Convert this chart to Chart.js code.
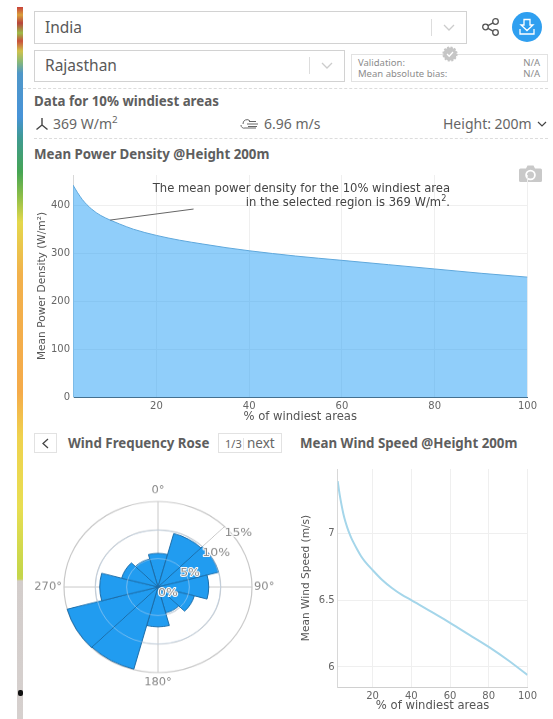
<!DOCTYPE html>
<html>
<head>
<meta charset="utf-8">
<script src="https://cdn.jsdelivr.net/npm/chart.js@4"></script>
<style>
  html, body { margin: 0; padding: 0; background: #fff; }
  body { width: 553px; height: 719px; position: relative; overflow: hidden; font-family: 'Noto Sans', sans-serif; color: #5c5c5c; }
  .abs { position: absolute; white-space: nowrap; }
  .box { position: absolute; box-sizing: border-box; border: 1px solid #d2d2d2; background: #fff; }
  .sel { font-size: 15.5px; line-height: 20px; color: #595959; }
  .head { font-size: 13.3px; font-weight: 700; line-height: 18px; color: #5e5e5e; }
  .stat { font-size: 14px; line-height: 18px; color: #666; }
  .val { font-size: 9.5px; line-height: 12px; color: #8c8c8c; }
  .dash { position: absolute; height: 0; border-top: 1px dashed #dcdcdc; }
  .note { font: 11.6px 'DejaVu Sans', sans-serif; color: #444; line-height: 14px; text-align: right; }
  canvas { position: absolute; display: block; }
  sup { font-size: 70%; line-height: 0; }
  #strip { position: absolute; left: 17px; top: 7px; width: 6px; height: 712px;
    background: linear-gradient(to bottom, #c8403a 0, #d9a03c 8px, #b8443c 16px, #9cbc48 26px, #c9503c 34px, #cfc24c 44px, #88b878 55px, #4f97c8 66px, #4793d8 110px, #3f9a92 131px, #46a554 165px, #8fbf48 190px, #e4d84c 215px, #f2b14c 268px, #f5ab4a 385px, #efd24e 430px, #e8de52 500px, #c4d64a 568px, #c8d450 572px, #d3cdcb 574px, #d6d0ce 712px); }
  #dot { position: absolute; left: 18px; top: 690px; width: 5px; height: 6px; background: #111; border-radius: 2px; }
</style>
</head>
<body>
<div id="strip"></div><div id="dot"></div>

<div class="box" style="left:34px;top:11px;width:433px;height:33px"></div>
<div class="abs sel" style="left:45px;top:17px">India</div>
<div class="abs" style="left:431px;top:19px;width:1px;height:17px;background:#ddd"></div>
<svg class="abs" style="left:443px;top:24px" width="12" height="8"><path d="M1 1 L6 6 L11 1" fill="none" stroke="#ccc" stroke-width="1.3"/></svg>

<svg class="abs" style="left:481px;top:17px" width="20" height="20" fill="none" stroke="#555" stroke-width="1.3">
  <circle cx="4.5" cy="10" r="2.8"/><circle cx="14.5" cy="4.5" r="2.8"/><circle cx="14.5" cy="15.5" r="2.8"/>
  <path d="M7 8.6 L12 5.9 M7 11.4 L12 14.1"/>
</svg>
<svg class="abs" style="left:512px;top:12px" width="30" height="30">
  <circle cx="15" cy="15" r="15" fill="#2f9ff0"/>
  <path d="M12 7.5 H18 V13 H21 L15 18.5 L9 13 H12 Z M8 17 V22 H22 V17" fill="none" stroke="#fff" stroke-width="1.3"/>
</svg>

<div class="box" style="left:34px;top:50px;width:311px;height:32px"></div>
<div class="abs sel" style="left:45px;top:55px">Rajasthan</div>
<div class="abs" style="left:309px;top:57px;width:1px;height:17px;background:#ddd"></div>
<svg class="abs" style="left:321px;top:62px" width="12" height="8"><path d="M1 1 L6 6 L11 1" fill="none" stroke="#ccc" stroke-width="1.3"/></svg>

<div class="box" style="left:351px;top:54px;width:197px;height:28px;border-color:#e2e2e2"></div>
<svg class="abs" style="left:442px;top:46px" width="16" height="16">
  <circle cx="8" cy="8" r="6.6" fill="#c6c6c6" stroke="#c6c6c6" stroke-dasharray="2 1.5" stroke-width="2"/>
  <path d="M5 8 L7.2 10.2 L11 6" fill="none" stroke="#fff" stroke-width="1.3"/>
</svg>
<div class="abs val" style="left:358px;top:57px">Validation:</div>
<div class="abs val" style="left:358px;top:68px">Mean absolute bias:</div>
<div class="abs val" style="right:13px;top:57px">N/A</div>
<div class="abs val" style="right:13px;top:68px">N/A</div>

<div class="dash" style="left:23px;width:525px;top:88px"></div>
<div class="abs head" style="left:34px;top:92px">Data for 10% windiest areas</div>

<svg class="abs" style="left:35px;top:117px" width="14" height="14" fill="none" stroke="#444" stroke-width="1.4">
  <path d="M7 1 V8 M7 8 L1.5 12.5 M7 8 L12.5 12.5"/>
</svg>
<div class="abs stat" style="left:53px;top:115px">369 W/m<sup>2</sup></div>
<svg class="abs" style="left:240px;top:118px" width="19" height="12" fill="none" stroke="#666" stroke-width="1">
  <path d="M3 6 A4 4 0 0 1 10 3 M1 7 A3 3 0 0 0 5 10 H16 M7 6 H18 M8 8.5 H17 M9 3.5 H16"/>
</svg>
<div class="abs stat" style="left:264px;top:115px">6.96 m/s</div>
<div class="abs stat" style="left:443px;top:115px">Height: 200m</div>
<svg class="abs" style="left:537px;top:121px" width="10" height="7"><path d="M1 1 L5 5 L9 1" fill="none" stroke="#444" stroke-width="1.2"/></svg>

<div class="dash" style="left:34px;width:514px;top:138px"></div>
<div class="abs head" style="left:34px;top:145px">Mean Power Density @Height 200m</div>

<svg class="abs" style="left:519px;top:165px" width="23" height="17">
  <path d="M1.5 3.5 H7 L8.5 0.5 H14.5 L16 3.5 H21.5 Q23 3.5 23 5 V15.5 Q23 17 21.5 17 H1.5 Q0 17 0 15.5 V5 Q0 3.5 1.5 3.5 Z" fill="#c9c9c9"/>
  <circle cx="11.5" cy="10" r="4.4" fill="none" stroke="#fff" stroke-width="1.8"/>
</svg>

<canvas id="powerChart" style="left:30px;top:165px"></canvas>
<div class="abs note" style="right:103px;top:181px">The mean power density for the 10% windiest area<br>in the selected region is 369 W/m<sup>2</sup>.</div>

<div class="box" style="left:34px;top:433px;width:23px;height:20px;border-color:#e2e2e2"></div>
<svg class="abs" style="left:41px;top:438px" width="9" height="11"><path d="M7 1 L2 5.5 L7 10" fill="none" stroke="#444" stroke-width="1.3"/></svg>
<div class="abs head" style="left:68px;top:434px">Wind Frequency Rose</div>
<div class="box" style="left:218px;top:433px;width:64px;height:20px;border-color:#e2e2e2"></div>
<div class="abs stat" style="left:225px;top:435px;font-size:11px">1/3</div>
<div class="abs" style="left:243px;top:438px;width:1px;height:12px;background:#e4e4e4"></div>
<div class="abs stat" style="left:247px;top:434px;font-size:13.5px">next</div>
<div class="abs head" style="left:300px;top:434px">Mean Wind Speed @Height 200m</div>

<canvas id="roseChart" style="left:18px;top:447px;transform:scaleY(0.91);transform-origin:center"></canvas>
<canvas id="speedChart" style="left:296px;top:460px"></canvas>

<script>
// ─── DATA ───
const powerPct    = [2, 3, 4, 5, 6, 7, 8, 9, 10, 12, 15, 20, 25, 30, 35, 40, 50, 60, 70, 80, 90, 100];
const powerValues = [442, 426, 412, 401, 392, 384.5, 378.5, 373.5, 369, 361, 350, 337, 327, 319, 311.5, 305, 294, 285, 276, 267, 258, 250];
const powerXTicks = [20, 40, 60, 80, 100];
const powerYTicks = [0, 100, 200, 300, 400];
const powerNote   = { x: [10, 28], y: [369, 392] };

const speedPct    = [2, 3, 4, 5, 6, 7, 8, 9, 10, 12, 14, 16, 20, 25, 30, 35, 40, 50, 60, 70, 80, 90, 100];
const speedValues = [7.39, 7.29, 7.21, 7.14, 7.085, 7.04, 7.0, 6.965, 6.935, 6.88, 6.83, 6.79, 6.725, 6.65, 6.59, 6.54, 6.5, 6.415, 6.33, 6.24, 6.15, 6.05, 5.94];
const speedXTicks = [20, 40, 60, 80, 100];
const speedYTicks = [6, 6.5, 7];

// 12 sectors of 30 deg, first one centred on north
const roseSectors = ['0°', '30°', '60°', '90°', '120°', '150°', '180°', '210°', '240°', '270°', '300°', '330°'];
const roseValues  = [5.9, 9.7, 10, 8.1, 6, 4.7, 7, 14.9, 15, 9.3, 6, 5.1];
const roseAngles  = [0, 90, 180, 270];
const roseRings   = [0, 5, 10, 15];

const TICK_FONT = { family: "'DejaVu Sans', sans-serif", size: 10 };
const XTITLE_FONT = { family: "'DejaVu Sans', sans-serif", size: 11.6 };
const YTITLE_FONT = { family: "'DejaVu Sans', sans-serif", size: 10.6 };
Chart.defaults.animation = false;
Chart.defaults.responsive = false;
Chart.defaults.plugins.legend.display = false;
Chart.defaults.plugins.tooltip.enabled = false;

function setSize(id, w, h) {
  const el = document.getElementById(id);
  el.width = w; el.height = h;
  el.style.width = w + 'px'; el.style.height = h + 'px';
  return el;
}

function toPoints(xs, ys) {
  return xs.map((x, i) => ({ x, y: ys[i] }));
}

// ─── LINE CHART WITH FIXED PLOT BOX ───
function buildCurve(id, opts) {
  const el = setSize(id, opts.w, opts.h);
  return new Chart(el, {
    type: 'line',
    data: { datasets: [{
      data: toPoints(opts.xs, opts.ys),
      borderColor: opts.lineColor, borderWidth: opts.lineWidth,
      backgroundColor: opts.fillColor, fill: opts.fillColor ? 'origin' : false,
      pointRadius: 0, cubicInterpolationMode: 'monotone',
    }] },
    options: {
      layout: { padding: { top: opts.padTop, right: opts.padRight } },
      scales: {
        x: {
          type: 'linear', min: 2, max: 100,
          afterBuildTicks: s => { s.ticks = opts.xTicks.map(value => ({ value })); },
          afterFit: s => { s.height = opts.axisH; },
          grid: { color: '#efefef', drawTicks: false },
          border: { color: opts.xBorder },
          ticks: { font: TICK_FONT, color: '#666', padding: 3, maxRotation: 0, autoSkip: false },
          title: { display: true, text: '% of windiest areas', font: XTITLE_FONT, color: '#555', padding: { top: 0, bottom: opts.titleBottom } },
        },
        y: {
          min: opts.yMin, max: opts.yMax,
          afterBuildTicks: s => { s.ticks = opts.yTicks.map(value => ({ value })); },
          afterFit: s => { s.width = opts.axisW; },
          grid: { color: '#efefef', drawTicks: false },
          border: { color: '#d8d8d8' },
          ticks: { font: TICK_FONT, color: '#666', padding: 3, autoSkip: false, callback: v => String(v) },
          title: { display: true, text: opts.yTitle, font: YTITLE_FONT, color: '#555', padding: { top: opts.titleLeft, bottom: 0 } },
        },
      },
    },
    plugins: opts.plugins || [],
  });
}

// leader line from the 10% point to the note
const leaderLine = {
  id: 'leaderLine',
  afterDatasetsDraw(chart) {
    const { ctx, scales: { x, y } } = chart;
    ctx.save();
    ctx.strokeStyle = '#666';
    ctx.lineWidth = 1;
    ctx.beginPath();
    ctx.moveTo(x.getPixelForValue(powerNote.x[0]), y.getPixelForValue(powerNote.y[0]));
    ctx.lineTo(x.getPixelForValue(powerNote.x[1]), y.getPixelForValue(powerNote.y[1]));
    ctx.stroke();
    ctx.restore();
  },
};

buildCurve('powerChart', {
  w: 510, h: 260, padTop: 10, padRight: 12, axisH: 28, axisW: 43, titleBottom: 1, titleLeft: 6,
  xs: powerPct, ys: powerValues, xTicks: powerXTicks, yTicks: powerYTicks,
  yMin: 0, yMax: 463, yTitle: 'Mean Power Density (W/m²)',
  lineColor: '#5fa8dc', lineWidth: 1, fillColor: 'rgba(33,158,245,0.5)', xBorder: '#44708f',
  plugins: [leaderLine],
});

buildCurve('speedChart', {
  w: 244, h: 259, padTop: 5, padRight: 11.7, axisH: 32, axisW: 41.7, titleBottom: 6, titleLeft: 4,
  xs: speedPct, ys: speedValues, xTicks: speedXTicks, yTicks: speedYTicks,
  yMin: 5.85, yMax: 7.48, yTitle: 'Mean Wind Speed (m/s)',
  lineColor: '#a5d6ea', lineWidth: 2, fillColor: null, xBorder: '#d0d0d0',
});

// ─── WIND ROSE ───
const roseOverlay = {
  id: 'roseOverlay',
  beforeDatasetsDraw(chart) {
    const { ctx } = chart;
    const s = chart.scales.r;
    const R = s.getDistanceFromCenterForValue(15);
    ctx.save();
    ctx.strokeStyle = '#c8c8c8';
    ctx.lineWidth = 1;
    [...roseAngles, 45].forEach(a => {
      const t = (a - 90) * Math.PI / 180;
      ctx.beginPath();
      ctx.moveTo(s.xCenter, s.yCenter);
      ctx.lineTo(s.xCenter + R * Math.cos(t), s.yCenter + R * Math.sin(t));
      ctx.stroke();
    });
    ctx.restore();
  },
  afterDatasetsDraw(chart) {
    const { ctx } = chart;
    const s = chart.scales.r;
    const R = s.getDistanceFromCenterForValue(15) + 10;
    ctx.save();
    // rings stay visible through the sectors
    ctx.strokeStyle = 'rgba(190,215,240,0.55)';
    ctx.lineWidth = 1;
    roseRings.slice(1, 3).forEach(v => {
      ctx.beginPath();
      ctx.arc(s.xCenter, s.yCenter, s.getDistanceFromCenterForValue(v), 0, Math.PI * 2);
      ctx.stroke();
    });
    ctx.font = "11.5px 'DejaVu Sans', sans-serif";
    ctx.fillStyle = '#8a8a8a';
    ctx.textBaseline = 'middle';
    roseAngles.forEach(a => {
      const t = (a - 90) * Math.PI / 180;
      const side = Math.round(Math.cos(t));
      ctx.textAlign = side > 0 ? 'left' : side < 0 ? 'right' : 'center';
      ctx.fillText(a + '°', s.xCenter + (side ? R - 8 : R) * Math.cos(t), s.yCenter + (R + 1.5) * Math.sin(t));
    });
    ctx.textAlign = 'left';
    ctx.lineJoin = 'round';
    ctx.font = "12.5px 'DejaVu Sans', sans-serif";
    roseRings.forEach(v => {
      const d = s.getDistanceFromCenterForValue(v) * Math.SQRT1_2;
      const px = s.xCenter + d, py = s.yCenter - d + 7;
      ctx.strokeStyle = '#fff';
      ctx.lineWidth = 2;
      ctx.strokeText(v + '%', px, py);
      ctx.fillText(v + '%', px, py);
    });
    ctx.restore();
  },
};

new Chart(setSize('roseChart', 280, 280), {
  type: 'polarArea',
  data: { labels: roseSectors, datasets: [{
    data: roseValues, backgroundColor: '#219cf0', borderColor: '#1b6ca8', borderWidth: 1,
  }] },
  options: {
    layout: { padding: 46 },
    scales: { r: {
      min: 0, max: 15, startAngle: -15,
      ticks: { display: false, stepSize: 5 },
      grid: { color: '#c8c8c8', lineWidth: 1.2 },
      angleLines: { display: false },
      pointLabels: { display: false },
    } },
  },
  plugins: [roseOverlay],
});
</script>
</body>
</html>
